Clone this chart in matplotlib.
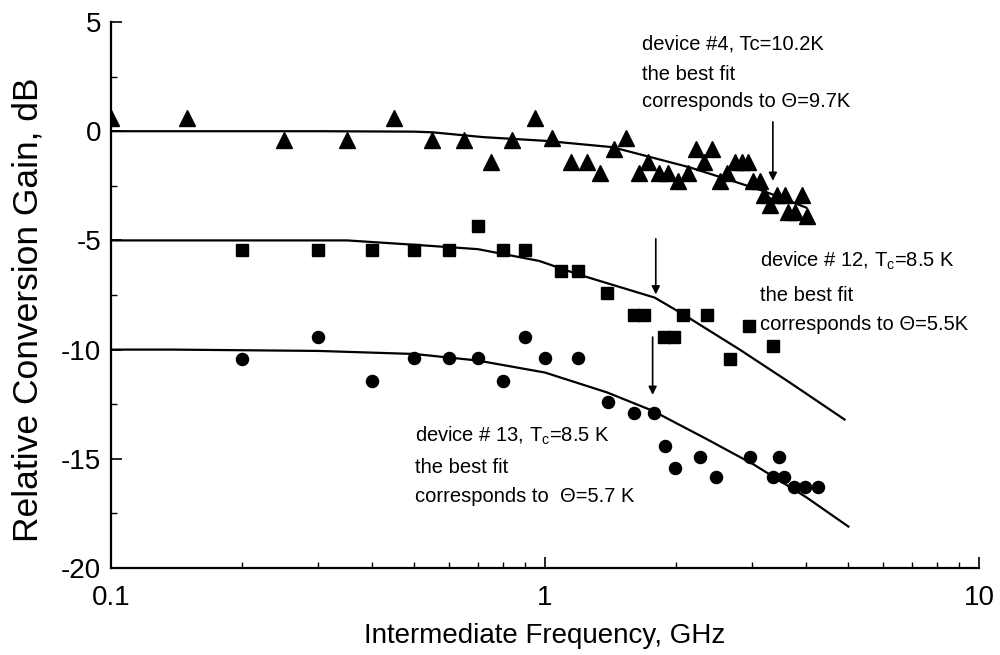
import matplotlib
matplotlib.use("Agg")
import matplotlib.pyplot as plt
import numpy as np

plt.rcParams['font.family'] = ['Liberation Sans', 'DejaVu Sans']
plt.rcParams['mathtext.fontset'] = 'custom'
plt.rcParams['mathtext.rm'] = 'Liberation Sans'
plt.rcParams['mathtext.it'] = 'Liberation Sans'

# ---- device #4 (triangles) ----
d4_f = [0.1, 0.15, 0.25, 0.35, 0.45, 0.55, 0.65, 0.75, 0.84, 0.95,
        1.04, 1.15, 1.25, 1.34, 1.44, 1.54, 1.65, 1.73, 1.83, 1.92,
        2.03, 2.14, 2.23, 2.33, 2.43, 2.53, 2.63, 2.74, 2.84, 2.94,
        3.02, 3.13, 3.2, 3.3, 3.42, 3.57, 3.63, 3.77, 3.91, 4.02]
d4_g = [0.6, 0.6, -0.4, -0.4, 0.6, -0.4, -0.4, -1.4, -0.4, 0.6,
        -0.3, -1.4, -1.4, -1.9, -0.8, -0.3, -1.9, -1.4, -1.9, -1.9,
        -2.3, -1.9, -0.8, -1.4, -0.8, -2.3, -1.9, -1.4, -1.4, -1.4,
        -2.3, -2.3, -2.9, -3.4, -2.9, -2.9, -3.7, -3.7, -2.9, -3.9]
fit4_f = [0.1, 0.3, 0.5, 0.55, 0.72, 1.0, 1.43, 2.15, 2.63, 3.1, 3.35, 4.0]
fit4_g = [0.0, 0.0, -0.02, -0.05, -0.27, -0.44, -0.73, -1.65, -2.2, -2.66, -2.9, -3.5]

# ---- device #12 (squares) ----
d12_f = [0.2, 0.3, 0.4, 0.5, 0.6, 0.7, 0.8, 0.9, 1.09, 1.19,
         1.39, 1.6, 1.69, 1.88, 1.98, 2.08, 2.36, 2.67, 2.95, 3.35]
d12_g = [-5.45, -5.45, -5.45, -5.45, -5.45, -4.35, -5.45, -5.45, -6.4, -6.4,
         -7.4, -8.4, -8.4, -9.4, -9.4, -8.4, -8.4, -10.45, -8.9, -9.85]
fit12_f = [0.1, 0.35, 0.5, 0.7, 0.97, 1.19, 1.79, 2.08, 2.8, 3.66, 4.9]
fit12_g = [-5.0, -5.0, -5.2, -5.4, -5.94, -6.55, -7.62, -8.38, -9.98, -11.5, -13.2]

# ---- device #13 (circles) ----
d13_f = [0.2, 0.3, 0.4, 0.5, 0.6, 0.7, 0.8, 0.9, 1.0, 1.19,
         1.4, 1.6, 1.78, 1.89, 1.99, 2.28, 2.48, 2.97, 3.35, 3.46,
         3.55, 3.75, 3.97, 4.26]
d13_g = [-10.45, -9.4, -11.45, -10.4, -10.4, -10.4, -11.45, -9.4, -10.4, -10.4,
         -12.4, -12.9, -12.9, -14.4, -15.4, -14.9, -15.85, -14.9, -15.85, -14.9,
         -15.85, -16.3, -16.3, -16.3]
fit13_f = [0.1, 0.14, 0.3, 0.5, 0.7, 1.0, 1.39, 1.77, 2.36, 3.02, 4.0, 4.6, 5.0]
fit13_g = [-10.0, -10.0, -10.06, -10.2, -10.5, -11.05, -11.96, -12.8, -14.1, -15.25, -16.76, -17.6, -18.1]

xticks = [0.1, 1, 10]
xticklabels = ['0.1', '1', '10']
yticks = [5, 0, -5, -10, -15, -20]

fig = plt.figure(figsize=(10, 6.55), dpi=100)
ax = fig.add_axes([0.111, 0.1328, 0.868, 0.8336])
ax.set_xscale('log')
ax.set_xlim(0.1, 10)
ax.set_ylim(-20, 5)

ax.plot(fit4_f, fit4_g, color='black', lw=1.6, clip_on=False)
ax.plot(fit12_f, fit12_g, color='black', lw=1.6, clip_on=False)
ax.plot(fit13_f, fit13_g, color='black', lw=1.6, clip_on=False)

ax.plot(d4_f, d4_g, linestyle='none', marker='^', color='black', markersize=12, clip_on=True)
ax.plot(d12_f, d12_g, linestyle='none', marker='s', color='black', markersize=8.3, clip_on=False)
ax.plot(d13_f, d13_g, linestyle='none', marker='o', color='black', markersize=8.7, clip_on=False)

for s in ['top', 'right']:
    ax.spines[s].set_visible(False)
for s in ['left', 'bottom']:
    ax.spines[s].set_linewidth(1.6)

ax.set_xticks(xticks)
ax.set_xticklabels(xticklabels)
ax.set_yticks(yticks)
ax.set_yticklabels([str(v) for v in yticks])
ax.set_yticks([2.5, -2.5, -7.5, -12.5, -17.5], minor=True)
ax.tick_params(which='major', direction='in', length=8, width=1.2, labelsize=20)
ax.tick_params(which='minor', direction='in', length=4, width=1.0)
ax.tick_params(axis='x', which='major', pad=12)
ax.tick_params(axis='y', which='major', pad=7)

ax.set_xlabel('Intermediate Frequency, GHz', fontsize=20, labelpad=9)
ax.set_ylabel('Relative Conversion Gain, dB', fontsize=25.5)
ax.yaxis.set_label_coords(-0.077, 0.473)

tkw = dict(fontsize=14.5, color='black', ha='left', va='center')
ax.text(1.67, 3.98, 'device #4, Tc=10.2K', **tkw)
ax.text(1.67, 2.61, 'the best fit', **tkw)
ax.text(1.67, 1.37, 'corresponds to Θ=9.7K', **tkw)

ax.text(3.13, -5.95, 'device # 12, T$_c$=8.5 K', **tkw)
ax.text(3.13, -7.5, 'the best fit', **tkw)
ax.text(3.13, -8.84, 'corresponds to Θ=5.5K', **tkw)

ax.text(0.502, -13.96, 'device # 13, T$_c$=8.5 K', **tkw)
ax.text(0.502, -15.38, 'the best fit', **tkw)
ax.text(0.502, -16.71, 'corresponds to  Θ=5.7 K', **tkw)

akw = dict(arrowstyle='-|>', color='black', lw=1.2, mutation_scale=12)
ax.annotate('', xy=(3.35, -2.4), xytext=(3.35, 0.55), arrowprops=akw)
ax.annotate('', xy=(1.8, -7.6), xytext=(1.8, -4.8), arrowprops=akw)
ax.annotate('', xy=(1.77, -12.2), xytext=(1.77, -9.3), arrowprops=akw)

fig.savefig('out.png', dpi=100)
